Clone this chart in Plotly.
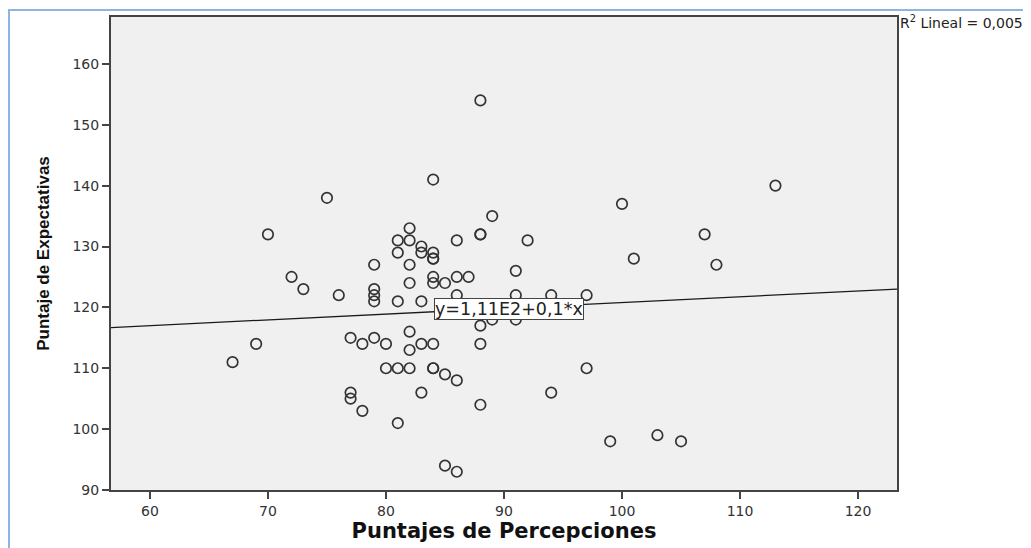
import plotly.graph_objects as go

# Data (Puntajes de Percepciones vs Puntaje de Expectativas)
percepciones = [88, 84, 75, 113, 100, 89, 70, 82, 81, 82, 83, 83, 81, 84, 84, 84,
                86, 88, 88, 92, 107, 79, 82, 101, 108, 72, 73, 76, 79, 79, 79, 81,
                83, 82, 84, 84, 85, 86, 87, 86, 91, 91, 94, 97, 89, 91, 88, 82,
                77, 78, 79, 80, 82, 83, 84, 88, 67, 69, 80, 81, 82, 84, 84, 85,
                86, 97, 77, 77, 78, 83, 94, 88, 81, 99, 103, 105, 85, 86]
expectativas = [154, 141, 138, 140, 137, 135, 132, 133, 131, 131, 130, 129, 129, 129, 128, 128,
                131, 132, 132, 131, 132, 127, 127, 128, 127, 125, 123, 122, 123, 122, 121, 121,
                121, 124, 125, 124, 124, 125, 125, 122, 126, 122, 122, 122, 118, 118, 117, 116,
                115, 114, 115, 114, 113, 114, 114, 114, 111, 114, 110, 110, 110, 110, 110, 109,
                108, 110, 106, 105, 103, 106, 106, 104, 101, 98, 99, 98, 94, 93]

# Fit line (y = 1,11E2 + 0,1*x)
fit_intercept = 111.3
fit_slope = 0.095
x_range = [56.7, 123.3]
y_range = [90, 167.7]
x_ticks = [60, 70, 80, 90, 100, 110, 120]
y_ticks = [90, 100, 110, 120, 130, 140, 150, 160]
eq_label = "y=1,11E2+0,1*x"
r2_label = "R<sup>2</sup> Lineal = 0,005"
eq_x = 90.4

# page has an 8px body margin, so the figure is drawn 8px in from the window edge
OFF = 8
W, H = 1031 - OFF, 548 - OFF
L, T = 111 - OFF, 17 - OFF
R, B = W - (897 - OFF), H - (490 - OFF)
pw, ph = W - L - R, H - T - B


def px_x(p):  # page pixel -> paper x
    return (p - OFF - L) / pw


def px_y(p):  # page pixel -> paper y
    return (H - B - (p - OFF)) / ph


FONT = "DejaVu Sans, Liberation Sans, Arial, sans-serif"

fig = go.Figure()
fig.add_trace(go.Scatter(
    x=x_range, y=[fit_intercept + fit_slope * v for v in x_range],
    mode="lines", line=dict(color="#1a1a1a", width=1.3),
    hoverinfo="skip", showlegend=False))
fig.add_trace(go.Scatter(
    x=percepciones, y=expectativas, mode="markers",
    marker=dict(symbol="circle-open", size=10.5, color="#333333",
                line=dict(width=1.7, color="#333333")),
    showlegend=False))

fig.add_annotation(x=eq_x, y=fit_intercept + fit_slope * eq_x, text=eq_label,
                   showarrow=False, xref="x", yref="y", yshift=-1,
                   font=dict(family=FONT, size=17.5, color="#222222"),
                   bgcolor="white", bordercolor="#444444", borderwidth=1, borderpad=0)
fig.add_annotation(x=px_x(898), y=px_y(22), xref="paper", yref="paper",
                   xanchor="left", yanchor="middle", text=r2_label, showarrow=False,
                   font=dict(family=FONT, size=14, color="#222222"))

# light blue outer frame
fig.add_shape(type="rect", xref="paper", yref="paper",
              x0=px_x(9), x1=px_x(1045),
              y0=px_y(560), y1=px_y(10),
              line=dict(color="#8FB4E3", width=2), fillcolor="rgba(0,0,0,0)", layer="below")

axis_common = dict(showgrid=False, zeroline=False, showline=True, linecolor="#444444",
                   linewidth=2, mirror=True, ticks="outside", tickcolor="#444444",
                   ticklen=7, tickwidth=1.5, automargin=False,
                   tickfont=dict(family=FONT, size=14, color="#333333"))

fig.update_layout(
    width=W, height=H,
    margin=dict(l=L, r=R, t=T, b=B, autoexpand=False),
    paper_bgcolor="white", plot_bgcolor="#F0F0F0",
    xaxis=dict(range=x_range, tickvals=x_ticks, **axis_common,
               title=dict(text="<b>Puntajes de Percepciones</b>", standoff=1,
                          font=dict(family=FONT, size=21, color="#111111"))),
    yaxis=dict(range=y_range, tickvals=y_ticks, **axis_common,
               title=dict(text="<b>Puntaje de Expectativas</b>", standoff=19,
                          font=dict(family="Liberation Sans Narrow, Arial Narrow, Liberation Sans, sans-serif",
                                    size=17, color="#111111"))),
)

fig.write_html("out.html")
